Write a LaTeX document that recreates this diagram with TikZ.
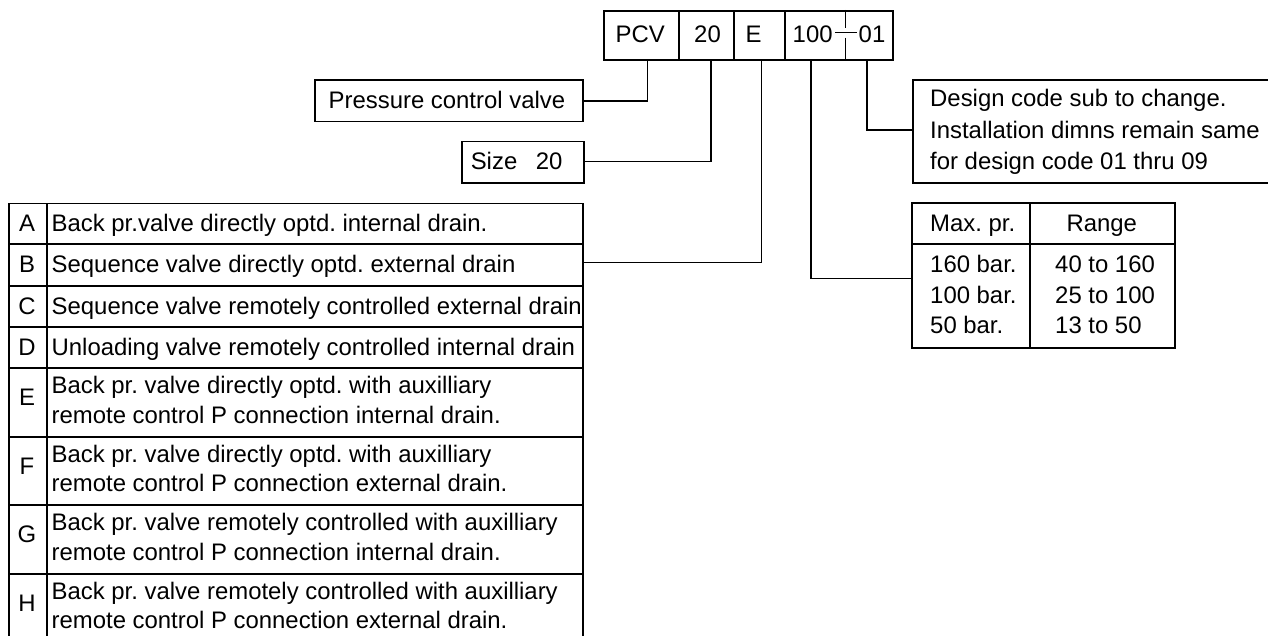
\documentclass[tikz,border=0pt]{standalone}
\usepackage{fontspec}
\setmainfont{Liberation Sans}
\frenchspacing
\begin{document}
\begin{tikzpicture}[x=1pt,y=-1pt,font=\fontsize{23.9}{29}\selectfont\frenchspacing]
\tikzset{
  bx/.style={draw, line width=1.8pt, inner sep=0pt, anchor=north west},
  thinbx/.style={draw, line width=1.2pt, inner sep=0pt, anchor=north west},
  conn/.style={line width=1.3pt},
  txt/.style={inner sep=0pt, anchor=base west},
  ctxt/.style={inner sep=0pt, anchor=base},
}
\useasboundingbox (0,0) rectangle (1268,636);
\clip (0,0) rectangle (1268,636);

% ---- code boxes
\node[bx, minimum width=75,    minimum height=49] (pcv) at (602.7,10) {};
\node[bx, minimum width=55,    minimum height=49] (sz)  at (677.7,10) {};
\node[bx, minimum width=51.3,  minimum height=49] (ty)  at (732.7,10) {};
\node[bx, minimum width=107.7, minimum height=49] (pr)  at (784,10) {};
\draw[line width=1.5pt] (845.7,10) -- (845.7,27.7) (845.7,37.7) -- (845.7,59);
\draw[conn] (835,32.7) -- (856.7,32.7);
\node[ctxt] at (640.2,42.5) {PCV};
\node[ctxt] at (707.5,42.5) {20};
\node[txt]  at (745.5,42.5) {E};
\node[txt]  at (792.5,42.5) {100};
\node[txt]  at (858.5,42.5) {01};

% ---- label boxes
\node[bx, minimum width=268.4, minimum height=41.4] (pcvl) at (314,79.3) {};
\node[txt] at (328.5,108.5) {Pressure control valve};
\node[bx, minimum width=121.7, minimum height=41.6] (szl) at (461,140.7) {};
\node[txt] at (470.6,170) {Size\hspace{18.5pt}20};

% ---- big table
\node[bx, minimum width=37.7, minimum height=40.6] (lA) at (8.3,202.7) {};
\node[bx, minimum width=535.7, minimum height=40.6] (rA) at (46,202.7) {};
\node[bx, minimum width=37.7, minimum height=41.7] (lB) at (8.3,243.3) {};
\node[bx, minimum width=535.7, minimum height=41.7] (rB) at (46,243.3) {};
\node[bx, minimum width=37.7, minimum height=41] (lC) at (8.3,285) {};
\node[bx, minimum width=535.7, minimum height=41] (rC) at (46,285) {};
\node[bx, minimum width=37.7, minimum height=41.3] (lD) at (8.3,326) {};
\node[bx, minimum width=535.7, minimum height=41.3] (rD) at (46,326) {};
\node[bx, minimum width=37.7, minimum height=68.4] (lE) at (8.3,367.3) {};
\node[bx, minimum width=535.7, minimum height=68.4] (rE) at (46,367.3) {};
\node[bx, minimum width=37.7, minimum height=68.6] (lF) at (8.3,435.7) {};
\node[bx, minimum width=535.7, minimum height=68.6] (rF) at (46,435.7) {};
\node[bx, minimum width=37.7, minimum height=68.4] (lG) at (8.3,504.3) {};
\node[bx, minimum width=535.7, minimum height=68.4] (rG) at (46,504.3) {};
\node[bx, minimum width=37.7, minimum height=68.4] (lH) at (8.3,572.7) {};
\node[bx, minimum width=535.7, minimum height=68.4] (rH) at (46,572.7) {};

\node[ctxt] at (27,231.5) {A};
\node[txt]  at (51.5,231.5) {Back pr.valve directly optd. internal drain.};
\node[ctxt] at (27,272.6) {B};
\node[txt]  at (51.5,272.6) {Sequence valve directly optd. external drain};
\node[ctxt] at (27,314) {C};
\node[txt]  at (51.5,314) {Sequence valve remotely controlled external drain};
\node[ctxt] at (27,355.1) {D};
\node[txt]  at (51.5,355.1) {Unloading valve remotely controlled internal drain};

\node[ctxt] at (27,405.8) {E};
\node[txt]  at (51.5,393.9) {Back pr. valve directly optd. with auxilliary};
\node[txt]  at (51.5,423.3) {remote control P connection internal drain.};
\node[ctxt] at (27,474.2) {F};
\node[txt]  at (51.5,462.3) {Back pr. valve directly optd. with auxilliary};
\node[txt]  at (51.5,491.7) {remote control P connection external drain.};
\node[ctxt] at (27,542.8) {G};
\node[txt]  at (51.5,530.9) {Back pr. valve remotely controlled with auxilliary};
\node[txt]  at (51.5,560.3) {remote control P connection internal drain.};
\node[ctxt] at (27,611.2) {H};
\node[txt]  at (51.5,599.3) {Back pr. valve remotely controlled with auxilliary};
\node[txt]  at (51.5,628.7) {remote control P connection external drain.};

% ---- design code box
\node[bx, minimum width=370, minimum height=103] (dsg) at (911.7,79.3) {};
\node[txt] at (930,107) {Design code sub to change.};
\node[txt] at (930,139) {Installation dimns remain same};
\node[txt] at (930,170) {for design code 01 thru 09};

% ---- pressure range table
\node[thinbx, minimum width=117.6, minimum height=40]    (mh) at (911.7,203.3) {};
\node[thinbx, minimum width=144.7, minimum height=40]    (rh) at (1029.3,203.3) {};
\node[thinbx, minimum width=117.6, minimum height=103.4] (mb) at (911.7,243.3) {};
\node[thinbx, minimum width=144.7, minimum height=103.4] (rb) at (1029.3,243.3) {};
\draw[line width=1.8pt] (mh.north west) rectangle (rb.south east);
\draw[line width=1.8pt] (mh.south west) -- (rh.south east);
\node[txt]  at (930,231.8) {Max. pr.};
\node[ctxt] at (1101.7,231.8) {Range};
\node[txt]  at (930,272.5) {160 bar.};
\node[txt]  at (930,303.5) {100 bar.};
\node[txt]  at (930,333.5) {50 bar.};
\node[txt]  at (1055,272.5) {40 to 160};
\node[txt]  at (1055,303.5) {25 to 100};
\node[txt]  at (1055,333.5) {13 to 50};

% ---- connectors
\draw[conn] ([xshift=6.5pt]pcv.south) |- (pcvl.east);
\draw[conn] ([xshift=4.8pt]sz.south) |- ([yshift=0.8pt]szl.east);
\draw[conn] ([xshift=2pt]ty.south) |- ([yshift=2.5pt]rB.east);
\draw[conn] ([xshift=-27.85pt]pr.south) |- ([yshift=17.3pt]mb.west);
\draw[conn] ([xshift=28.15pt]pr.south) |- ([yshift=1.8pt]dsg.west);
\end{tikzpicture}
\end{document}
